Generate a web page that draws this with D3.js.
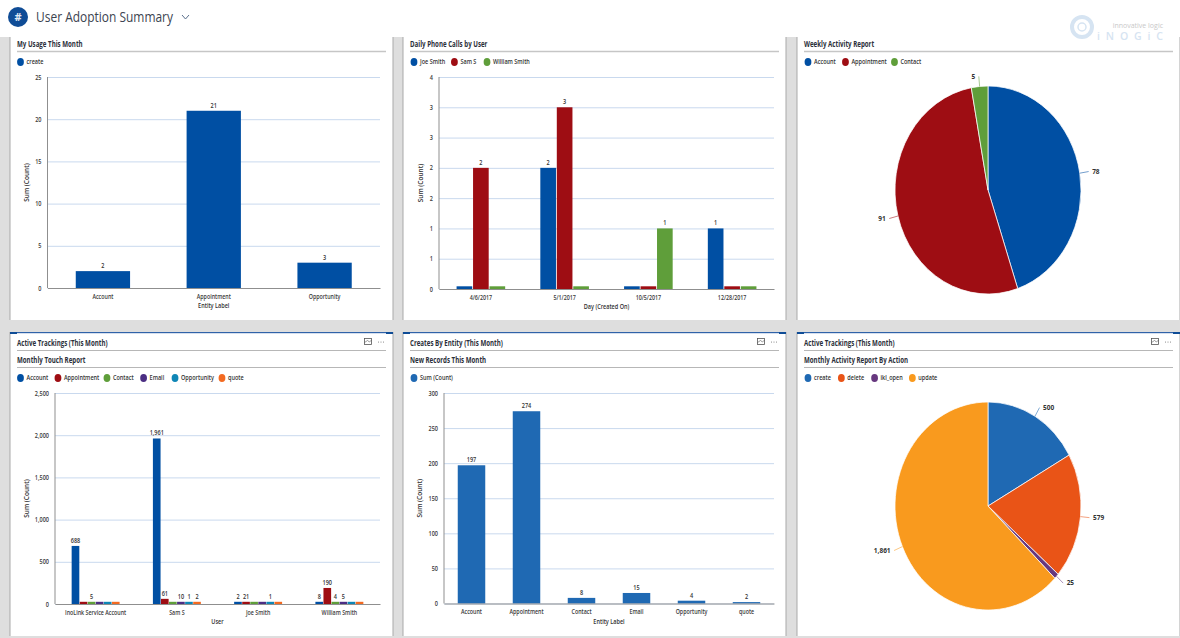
<!DOCTYPE html>
<html>
<head>
    <title>User Adoption Summary</title>
    <script src="https://d3js.org/d3.v7.min.js"></script>
    <style>
        body { margin: 0; background: #fff; }
        svg { display: block; }
        text { font-family: "Open Sans", sans-serif; fill: #333; }
        .head { font-size: 8px; font-weight: 700; fill: #2b2f3a; }
        .small { font-size: 6.5px; font-weight: 600; }
        .tick text { font-family: "Open Sans", sans-serif; font-size: 6.5px; font-weight: 600; fill: #3a3a3a; }
    </style>
</head>
<body>
    <div id="chart"></div>
    <script>
        // My Usage This Month
        var usageCategories = ["Account", "Appointment", "Opportunity"];
        var usageCreate = [2, 21, 3];
        var usageTicks = [0, 5, 10, 15, 20, 25];

        // Daily Phone Calls by User
        var callDays = ["4/6/2017", "5/1/2017", "10/5/2017", "12/28/2017"];
        var callsJoe = [0, 2, 0, 1];
        var callsSam = [2, 3, 0, 0];
        var callsWilliam = [0, 0, 1, 0];
        var callTicks = [0, 0.5, 1, 1.5, 2, 2.5, 3, 3.5];

        // Weekly Activity Report
        var weeklyLabels = ["Account", "Appointment", "Contact"];
        var weeklyValues = [78, 91, 5];

        // Monthly Touch Report
        var touchUsers = ["InoLink Service Account", "Sam S", "Joe Smith", "William Smith"];
        var touchAccount = [688, 1961, 2, 8];
        var touchAppointment = [0, 61, 21, 190];
        var touchContact = [5, 0, 0, 4];
        var touchEmail = [0, 10, 0, 5];
        var touchOpportunity = [0, 1, 1, 0];
        var touchQuote = [0, 2, 0, 0];
        var touchTicks = [0, 500, 1000, 1500, 2000, 2500];

        // New Records This Month
        var recordEntities = ["Account", "Appointment", "Contact", "Email", "Opportunity", "quote"];
        var recordCounts = [197, 274, 8, 15, 4, 2];
        var recordTicks = [0, 50, 100, 150, 200, 250, 300];

        // Monthly Activity Report By Action
        var actionLabels = ["create", "delete", "ikl_open", "update"];
        var actionValues = [500, 579, 25, 1861];

        var blue = "#004fa3", red = "#9e0d13", green = "#5f9e3a",
            purple = "#4b2e83", teal = "#0f86b6", orange = "#f36a21";

        var svg = d3.select("#chart").append("svg")
            .attr("width", 1180)
            .attr("height", 638);

        // the screenshot is squashed sideways, so text is narrowed to the same degree
        function squeeze(sel, k) {
            sel.each(function() {
                var len = this.getComputedTextLength();
                d3.select(this).attr("textLength", len * k).attr("lengthAdjust", "spacingAndGlyphs");
            });
            return sel;
        }

        svg.append("rect").attr("width", 1180).attr("height", 638).attr("fill", "#dedede");
        svg.append("rect").attr("width", 1180).attr("height", 37).attr("fill", "#fff");

        // header
        svg.append("circle").attr("cx", 18).attr("cy", 17).attr("r", 10).attr("fill", "#0f4c96");
        svg.append("text").attr("x", 18).attr("y", 21).attr("text-anchor", "middle")
            .style("font-size", "11px").style("font-weight", 700).style("fill", "#dfe8f3").text("#");
        svg.append("text").attr("x", 36).attr("y", 22)
            .attr("textLength", 137).attr("lengthAdjust", "spacingAndGlyphs")
            .style("font-size", "15px").style("fill", "#3c4450").text("User Adoption Summary");
        svg.append("path").attr("d", "M182,15 l3.5,4 l3.5,-4").attr("fill", "none")
            .attr("stroke", "#5a6f8c").attr("stroke-width", 1);

        function drawPanel(x, y, w, h, titles, hasBar) {
            svg.append("rect").attr("x", x).attr("y", y).attr("width", w).attr("height", h).attr("fill", "#fff");
            [x, x + w].forEach(function(px) {
                svg.append("line").attr("x1", px).attr("x2", px).attr("y1", y).attr("y2", y + h)
                    .attr("stroke", "#a9a9a9");
            });
            if (hasBar) {
                svg.append("rect").attr("x", x).attr("y", y).attr("width", w).attr("height", 1.2).attr("fill", "#2f62a8");
                svg.append("rect").attr("x", x).attr("y", y).attr("width", 7).attr("height", 2).attr("fill", "#0f4c96");
                svg.append("rect").attr("x", x + w - 7).attr("y", y).attr("width", 7).attr("height", 2).attr("fill", "#0f4c96");
                svg.append("rect").attr("x", x + w - 28.5).attr("y", y + 6.5).attr("width", 7).attr("height", 6)
                    .attr("fill", "#fff").attr("stroke", "#555").attr("stroke-width", 0.8);
                svg.append("path").attr("d", "M" + (x + w - 28.5) + "," + (y + 10.5) + "l3,-2 l2,1.5 l2,-2")
                    .attr("fill", "none").attr("stroke", "#555").attr("stroke-width", 0.6);
                [-14.5, -12, -9.5].forEach(function(dx) {
                    svg.append("circle").attr("cx", x + w + dx).attr("cy", y + 10).attr("r", 0.5).attr("fill", "#666");
                });
            }
            titles.forEach(function(t, i) {
                var ty = hasBar ? y + 14 + i * 17 : y + 10;
                svg.append("text").attr("class", "head").attr("x", x + 7).attr("y", ty).text(t).call(squeeze, 0.77);
                svg.append("line").attr("x1", x + 7).attr("x2", x + w - 7)
                    .attr("y1", ty + 4.5).attr("y2", ty + 4.5)
                    .attr("stroke", hasBar ? "#a5a5a5" : "#c6c6c6")
                    .attr("stroke-width", hasBar ? 0.8 : 1.6);
            });
        }

        function drawLegend(x, y, names, colors) {
            var cur = x;
            names.forEach(function(n, i) {
                svg.append("ellipse").attr("cx", cur).attr("cy", y).attr("rx", 3.4).attr("ry", 4).attr("fill", colors[i]);
                var t = svg.append("text").attr("class", "small").attr("x", cur + 6).attr("y", y + 2.3).text(n).call(squeeze, 0.85);
                cur += 6 + t.node().getComputedTextLength() * 0.85 + 13;
            });
        }

        function drawBars(opt) {
            var x0 = d3.scaleBand().domain(opt.categories).range([opt.left, opt.right]).paddingInner(opt.padding).paddingOuter(opt.padding / 2);
            var x1 = d3.scaleBand().domain(d3.range(opt.series.length)).range([0, x0.bandwidth()]).padding(opt.series.length > 1 ? 0.05 : 0);
            var y = d3.scaleLinear().domain(d3.extent(opt.ticks)).range([opt.bottom, opt.top]);

            var grid = svg.append("g")
                .attr("transform", "translate(" + opt.left + ",0)")
                .call(d3.axisLeft(y).tickValues(opt.ticks).tickSize(-(opt.right - opt.left)).tickPadding(6)
                    .tickFormat(opt.tickFormat || d3.format(",")));
            grid.select(".domain").remove();
            grid.selectAll(".tick line").attr("stroke", "#c9d9ee");
            grid.selectAll(".tick text").call(squeeze, 0.85);

            opt.series.forEach(function(values, s) {
                var g = svg.append("g").attr("fill", opt.colors[s]);
                values.forEach(function(v, i) {
                    var cat = opt.categories[i];
                    var top = y(v);
                    // empty and tiny values still get a small stub in the original
                    if (opt.stub && opt.bottom - top < opt.stub) top = opt.bottom - opt.stub;
                    g.append("rect")
                        .attr("x", x0(cat) + x1(s))
                        .attr("y", top)
                        .attr("width", x1.bandwidth())
                        .attr("height", opt.bottom - top);
                    if (v > 0) {
                        svg.append("text").attr("class", "small")
                            .attr("x", x0(cat) + x1(s) + x1.bandwidth() / 2)
                            .attr("y", top - 3)
                            .attr("text-anchor", "middle")
                            .text(d3.format(",")(v))
                            .call(squeeze, 0.85);
                    }
                });
            });

            var axis = svg.append("g")
                .attr("transform", "translate(0," + opt.bottom + ")")
                .call(d3.axisBottom(x0).tickSize(0).tickPadding(6));
            axis.select(".domain").attr("stroke", "#8f8f8f");
            axis.selectAll(".tick text").call(squeeze, 0.82);
            svg.append("line").attr("x1", opt.left).attr("x2", opt.left).attr("y1", opt.top).attr("y2", opt.bottom)
                .attr("stroke", "#8f8f8f");

            svg.append("text").attr("class", "small").attr("x", (opt.left + opt.right) / 2).attr("y", opt.bottom + 20)
                .attr("text-anchor", "middle").text(opt.xTitle).call(squeeze, 0.85);
            svg.append("text").attr("class", "small")
                .attr("transform", "translate(" + opt.yTitleX + "," + (opt.top + opt.bottom) / 2 + ") rotate(-90)")
                .attr("text-anchor", "middle").text("Sum (Count)");
        }

        function drawPie(cx, cy, values, colors) {
            var rx = 93, stretch = 104 / 93;
            var pie = d3.pie().sort(null).value(function(d) { return d; });
            var arc = d3.arc().innerRadius(0).outerRadius(rx);
            var g = svg.append("g").attr("transform", "translate(" + cx + "," + cy + ") scale(1," + stretch + ")");
            var arcs = pie(values);
            g.selectAll("path").data(arcs).enter().append("path")
                .attr("d", arc)
                .attr("fill", function(d, i) { return colors[i]; })
                .attr("stroke", "#fff").attr("stroke-width", 0.7);

            var edge = d3.arc().innerRadius(rx).outerRadius(rx);
            var tip = d3.arc().innerRadius(rx + 9).outerRadius(rx + 9);
            arcs.forEach(function(d, i) {
                var a = edge.centroid(d), b = tip.centroid(d);
                svg.append("line")
                    .attr("x1", cx + a[0]).attr("y1", cy + a[1] * stretch)
                    .attr("x2", cx + b[0]).attr("y2", cy + b[1] * stretch)
                    .attr("stroke", colors[i]).attr("stroke-opacity", 0.55);
                var right = b[0] > 0;
                svg.append("text").attr("class", "small")
                    .attr("x", cx + b[0] + (right ? 3.5 : -3.5))
                    .attr("y", cy + b[1] * stretch + 2.3)
                    .attr("text-anchor", right ? "start" : "end")
                    .style("font-weight", 700)
                    .text(d3.format(",")(values[i]));
            });
        }

        // top row
        drawPanel(10, 37, 383, 283, ["My Usage This Month"], false);
        drawPanel(403, 37, 383, 283, ["Daily Phone Calls by User"], false);
        drawPanel(797, 37, 383, 283, ["Weekly Activity Report"], false);

        drawLegend(20.5, 62, ["create"], [blue]);
        drawBars({
            categories: usageCategories, series: [usageCreate], colors: [blue], ticks: usageTicks,
            left: 47.5, right: 380, top: 77, bottom: 288, padding: 0.51,
            xTitle: "Entity Label", yTitleX: 29
        });

        drawLegend(414, 62, ["Joe Smith", "Sam S", "William Smith"], [blue, red, green]);
        drawBars({
            categories: callDays, series: [callsJoe, callsSam, callsWilliam], colors: [blue, red, green], ticks: callTicks,
            left: 439, right: 774, top: 77, bottom: 289, padding: 0.4, stub: 2.7,
            tickFormat: function(d) { return Math.round(d); },
            xTitle: "Day (Created On)", yTitleX: 423
        });

        drawLegend(808, 62, weeklyLabels, [blue, red, green]);
        drawPie(988, 190, weeklyValues, [blue, red, green]);

        // bottom row
        drawPanel(10, 332, 383, 304, ["Active Trackings (This Month)", "Monthly Touch Report"], true);
        drawPanel(403, 332, 383, 304, ["Creates By Entity (This Month)", "New Records This Month"], true);
        drawPanel(797, 332, 383, 304, ["Active Trackings (This Month)", "Monthly Activity Report By Action"], true);

        var touchColors = [blue, red, green, purple, teal, orange];
        drawLegend(20.5, 378, ["Account", "Appointment", "Contact", "Email", "Opportunity", "quote"], touchColors);
        drawBars({
            categories: touchUsers,
            series: [touchAccount, touchAppointment, touchContact, touchEmail, touchOpportunity, touchQuote],
            colors: touchColors, ticks: touchTicks,
            left: 55, right: 380, top: 393, bottom: 604, padding: 0.4, stub: 2.2,
            xTitle: "User", yTitleX: 29
        });

        drawLegend(414, 378, ["Sum (Count)"], ["#1f69b3"]);
        drawBars({
            categories: recordEntities, series: [recordCounts], colors: ["#1f69b3"], ticks: recordTicks,
            left: 444, right: 774, top: 393, bottom: 603.5, padding: 0.5,
            xTitle: "Entity Label", yTitleX: 422
        });

        var actionColors = ["#1f69b3", "#e95417", "#67387f", "#f99a1e"];
        drawLegend(808, 378, actionLabels, actionColors);
        drawPie(988, 506, actionValues, actionColors);

        // logo watermark sits over the panel edge
        svg.append("circle").attr("cx", 1082).attr("cy", 27).attr("r", 10).attr("fill", "none")
            .attr("stroke", "#d6e4f2").attr("stroke-width", 4);
        svg.append("circle").attr("cx", 1082).attr("cy", 27).attr("r", 4).attr("fill", "none")
            .attr("stroke", "#d6e4f2").attr("stroke-width", 1.5);
        svg.append("text").attr("x", 1163).attr("y", 28).attr("text-anchor", "end")
            .style("font-size", "7px").style("fill", "#c9c9c9").text("innovative logic");
        svg.append("text").attr("x", 1097).attr("y", 39.5)
            .attr("textLength", 66).attr("lengthAdjust", "spacing")
            .style("font-size", "10.5px").style("font-weight", 600).style("fill", "#d6e4f2").text("iNOGiC");
    </script>
</body>
</html>
